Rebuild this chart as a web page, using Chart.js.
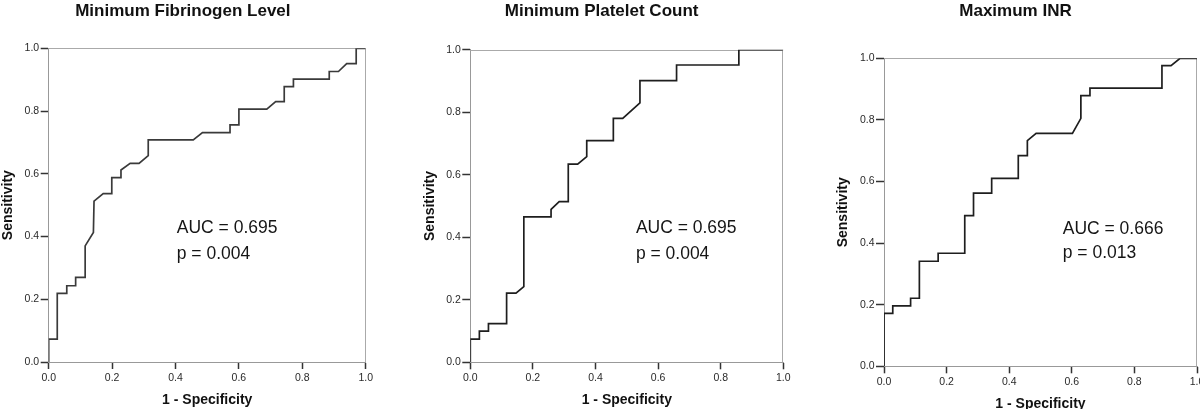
<!DOCTYPE html>
<html><head><meta charset="utf-8">
<script src="https://cdn.jsdelivr.net/npm/chart.js@4"></script>
<style>
html,body{margin:0;padding:0;background:#fff;width:1200px;height:409px;overflow:hidden;position:relative}
canvas{position:absolute;top:0}
</style></head><body>
<canvas id="c1" width="384" height="409" style="left:0px"></canvas>
<canvas id="c2" width="385" height="409" style="left:420px"></canvas>
<canvas id="c3" width="386" height="420" style="left:834px"></canvas>
<script>
// ---- data ----
const panelTitles = ['Minimum Fibrinogen Level', 'Minimum Platelet Count', 'Maximum INR'];
const xAxisTitle = '1 - Specificity';
const yAxisTitle = 'Sensitivity';
const aucLabels = ['AUC = 0.695', 'AUC = 0.695', 'AUC = 0.666'];
const pLabels = ['p = 0.004', 'p = 0.004', 'p = 0.013'];
const tickValues = [0.0, 0.2, 0.4, 0.6, 0.8, 1.0];
const tickLabels = ['0.0', '0.2', '0.4', '0.6', '0.8', '1.0'];

const fibX = [0, 0, 0.027, 0.027, 0.057, 0.057, 0.085, 0.085, 0.115, 0.115, 0.141, 0.143, 0.172, 0.199, 0.199, 0.228, 0.228, 0.257, 0.285, 0.314, 0.314, 0.456, 0.485, 0.572, 0.572, 0.600, 0.600, 0.688, 0.716, 0.743, 0.743, 0.772, 0.772, 0.885, 0.885, 0.914, 0.940, 0.970, 0.970, 1.0];
const fibY = [0, 0.073, 0.073, 0.219, 0.219, 0.243, 0.243, 0.270, 0.270, 0.370, 0.413, 0.513, 0.537, 0.537, 0.588, 0.588, 0.612, 0.633, 0.633, 0.658, 0.708, 0.708, 0.731, 0.731, 0.756, 0.756, 0.806, 0.806, 0.830, 0.830, 0.878, 0.878, 0.902, 0.902, 0.926, 0.926, 0.951, 0.951, 1.0, 1.0];

const pltX = [0, 0, 0.029, 0.029, 0.058, 0.058, 0.116, 0.116, 0.146, 0.171, 0.171, 0.258, 0.258, 0.284, 0.313, 0.313, 0.343, 0.372, 0.372, 0.457, 0.457, 0.487, 0.542, 0.542, 0.659, 0.659, 0.858, 0.858, 1.0];
const pltY = [0, 0.074, 0.074, 0.100, 0.100, 0.124, 0.124, 0.221, 0.221, 0.242, 0.465, 0.465, 0.489, 0.514, 0.514, 0.634, 0.634, 0.658, 0.709, 0.709, 0.780, 0.780, 0.830, 0.901, 0.901, 0.951, 0.951, 1.0, 1.0];

const inrX = [0, 0, 0.028, 0.028, 0.085, 0.085, 0.113, 0.113, 0.173, 0.173, 0.258, 0.258, 0.286, 0.286, 0.344, 0.344, 0.429, 0.429, 0.458, 0.458, 0.486, 0.602, 0.629, 0.629, 0.658, 0.658, 0.888, 0.888, 0.917, 0.946, 1.0];
const inrY = [0, 0.172, 0.172, 0.196, 0.196, 0.221, 0.221, 0.341, 0.341, 0.367, 0.367, 0.489, 0.489, 0.562, 0.562, 0.610, 0.610, 0.684, 0.684, 0.733, 0.756, 0.756, 0.805, 0.879, 0.879, 0.903, 0.903, 0.976, 0.976, 1.0, 1.0];

// ---- styling / layout ----
const FONT = '"Liberation Sans", Arial, Helvetica, sans-serif';
Chart.defaults.font.family = FONT;
Chart.defaults.color = '#333';

const layouts = [
  {id:'c1', xs:fibX, ys:fibY, lineColor:'#3a3a3a', yW:48.7, xH:47, padR:18.3, tTop:0.8, tBot:27.1, yTP:0, xTP:0.6, tx:0.404, ty1:0.427, ty2:0.344},
  {id:'c2', xs:pltX, ys:pltY, lineColor:'#1e1e1e', yW:50.3, xH:46.7, padR:21.7, tTop:0.8, tBot:28.5, yTP:2, xTP:0.6, tx:0.529, ty1:0.429, ty2:0.346},
  {id:'c3', xs:inrX, ys:inrY, lineColor:'#1e1e1e', yW:50, xH:53.7, padR:23, tTop:0.8, tBot:37.1, yTP:0.8, xTP:7.6, tx:0.571, ty1:0.446, ty2:0.368}
];

const framePlugin = {
  id: 'frame',
  beforeDatasetsDraw(chart) {
    const {ctx, chartArea: a} = chart;
    ctx.save();
    ctx.strokeStyle = '#aaaaaa';
    ctx.lineWidth = 1;
    ctx.beginPath();
    const t = Math.round(a.top) + 0.5, r = Math.round(a.right) - 0.5;
    ctx.moveTo(a.left, t); ctx.lineTo(r, t); ctx.lineTo(r, a.bottom);
    ctx.stroke();
    ctx.restore();
  }
};
const annotPlugin = {
  id: 'annot',
  afterDatasetsDraw(chart, args, opts) {
    const {ctx, scales: {x, y}} = chart;
    ctx.save();
    ctx.font = '17.5px ' + FONT;
    ctx.fillStyle = '#151515';
    ctx.textAlign = 'left';
    ctx.textBaseline = 'middle';
    opts.lines.forEach((t, i) => ctx.fillText(t, x.getPixelForValue(opts.x), y.getPixelForValue(opts.ys[i])));
    ctx.restore();
  }
};

layouts.forEach((L, i) => {
  const pts = L.xs.map((v, k) => ({x: v, y: L.ys[k]}));
  const tickCb = (v) => { const k = tickValues.findIndex(t => Math.abs(t - v) < 1e-6); return k >= 0 ? tickLabels[k] : ''; };
  new Chart(document.getElementById(L.id), {
    type: 'line',
    data: { datasets: [{ data: pts, borderColor: L.lineColor, borderWidth: 1.7, pointRadius: 0, tension: 0, fill: false }] },
    options: {
      responsive: false, animation: false, devicePixelRatio: 1,
      layout: { padding: { left: 0, right: L.padR, top: 0, bottom: 0 } },
      plugins: {
        legend: { display: false }, tooltip: { enabled: false },
        title: { display: true, text: panelTitles[i], color: '#111', font: { size: 17, weight: 'bold', family: FONT }, padding: { top: L.tTop, bottom: L.tBot } },
        annot: { lines: [aucLabels[i], pLabels[i]], x: L.tx, ys: [L.ty1, L.ty2] }
      },
      scales: {
        x: {
          type: 'linear', min: 0, max: 1,
          afterFit: (s) => { s.height = L.xH; },
          afterBuildTicks: (s) => { s.ticks = tickValues.map(v => ({value: v})); },
          ticks: { callback: tickCb, font: { size: 10.5 }, color: '#2a2a2a', padding: 3, maxRotation: 0 },
          grid: { drawOnChartArea: false, tickLength: 7, tickColor: '#333', tickWidth: 1.5 },
          border: { color: '#999', width: 1 },
          title: { display: true, text: xAxisTitle, color: '#111', font: { size: 14, weight: 'bold' }, padding: { top: 0, bottom: L.xTP } }
        },
        y: {
          type: 'linear', min: 0, max: 1,
          afterFit: (s) => { s.width = L.yW; },
          afterBuildTicks: (s) => { s.ticks = tickValues.map(v => ({value: v})); },
          ticks: { callback: tickCb, font: { size: 10.5 }, color: '#2a2a2a', padding: 1.5 },
          grid: { drawOnChartArea: false, tickLength: 8, tickColor: '#333', tickWidth: 1.5 },
          border: { color: '#999', width: 1 },
          title: { display: true, text: yAxisTitle, color: '#111', font: { size: 14, weight: 'bold' }, padding: { top: L.yTP, bottom: 0 } }
        }
      }
    },
    plugins: [framePlugin, annotPlugin]
  });
});
</script>
</body></html>
